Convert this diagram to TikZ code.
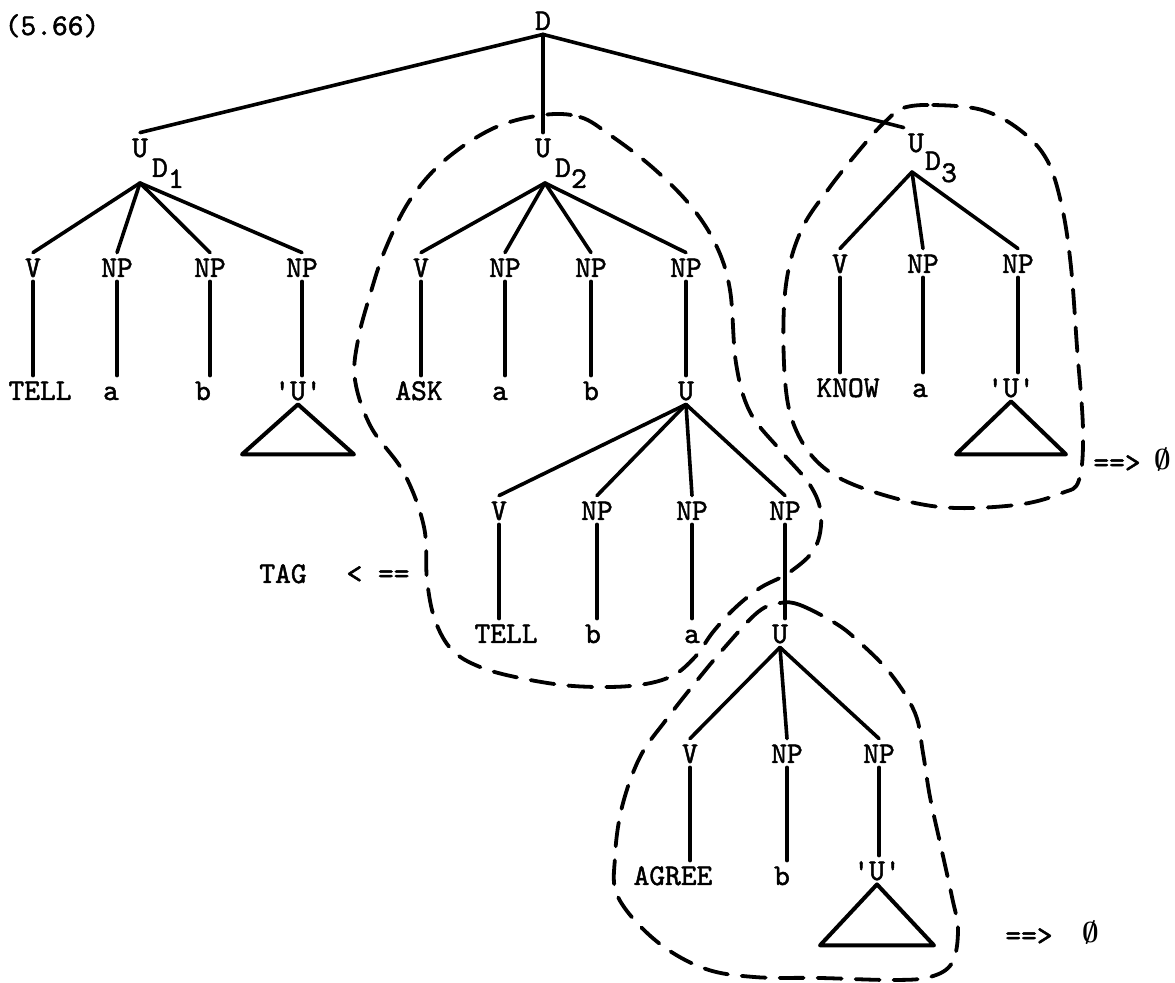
\documentclass[tikz,border=0pt]{standalone}
\usepackage{fontspec}
\newfontfamily\tw{lmmono10-regular}[Extension=.otf, FakeBold=1.6]
\newcommand{\qU}{\textquotesingle U\textquotesingle}
\begin{document}
\begin{tikzpicture}[x=0.5pt, y=-0.5pt,
	lab/.style={font=\tw\fontsize{15}{17}\selectfont, inner sep=2pt, text height=10pt, text depth=0pt},
	nul/.style={font=\fontsize{15}{17}\selectfont\boldmath, inner sep=2pt},
	branch/.style={line width=1.8pt, line cap=round},
	tri/.style={line width=2pt, line join=round},
	ring/.style={line width=1.9pt, line cap=round, dash pattern=on 12pt off 7pt}]
	% Khung hình theo ảnh gốc
	\useasboundingbox (0,0) rectangle (1175,983);
	
	% Nhãn và gốc D
	\node[lab] (num) at (52,25) {(5.66)};
	\node[lab] (D) at (543,20) {D};
	
	% Nhánh U_D1
	\node[lab] (ud1) at (140,147) {U};
	\node[lab] (ud1d) at (160,167) {D};
	\node[lab] (ud1i) at (176,178) {1};
	\coordinate (ud1b) at (140,183);
	\node[lab] (v1) at (33,267) {V};
	\node[lab] (np11) at (117,267) {NP};
	\node[lab] (np12) at (210,267) {NP};
	\node[lab] (np13) at (302,267) {NP};
	\node[lab] (tell1) at (40,390) {TELL};
	\node[lab] (a1) at (111,390) {a};
	\node[lab] (b1) at (203,390) {b};
	\node[lab] (uq1) at (298,390) {\qU};
	
	% Nhánh U_D2
	\node[lab] (ud2) at (543,147) {U};
	\node[lab] (ud2d) at (563,167) {D};
	\node[lab] (ud2i) at (579,178) {2};
	\coordinate (ud2b) at (545,183);
	\node[lab] (v2) at (421,267) {V};
	\node[lab] (np21) at (505,267) {NP};
	\node[lab] (np22) at (591,267) {NP};
	\node[lab] (np23) at (686,267) {NP};
	\node[lab] (ask) at (419,390) {ASK};
	\node[lab] (a2) at (500,390) {a};
	\node[lab] (b2) at (591,390) {b};
	\node[lab] (u2) at (686,390) {U};
	\node[lab] (v3) at (499,510) {V};
	\node[lab] (np31) at (597,510) {NP};
	\node[lab] (np32) at (692,510) {NP};
	\node[lab] (np33) at (785,510) {NP};
	\node[lab] (tell2) at (506,633) {TELL};
	\node[lab] (b3) at (593,633) {b};
	\node[lab] (a3) at (692,633) {a};
	\node[lab] (u3) at (780,633) {U};
	\node[lab] (v4) at (690,753) {V};
	\node[lab] (np41) at (787,753) {NP};
	\node[lab] (np42) at (879,753) {NP};
	\node[lab] (agree) at (673,875) {AGREE};
	\node[lab] (b4) at (782,875) {b};
	\node[lab] (uq3) at (877,870) {\qU};
	
	% Nhánh U_D3
	\node[lab] (ud3) at (916,142) {U};
	\node[lab] (ud3d) at (933,160) {D};
	\node[lab] (ud3i) at (949,172) {3};
	\coordinate (ud3b) at (912,172);
	\node[lab] (v5) at (840,263) {V};
	\node[lab] (np51) at (923,263) {NP};
	\node[lab] (np52) at (1018,263) {NP};
	\node[lab] (know) at (848,387) {KNOW};
	\node[lab] (a5) at (920,387) {a};
	\node[lab] (uq2) at (1011,387) {\qU};
	
	% Các phép biến đổi
	\node[lab] (tag) at (283,573) {TAG};
	\node[lab] (larr) at (378,573) {< ==};
	\node[lab] (rarr1) at (1117,462) {==>};
	\node[nul] (nul1) at (1163,460) {$\emptyset$};
	\node[lab] (rarr2) at (1029,935) {==>};
	\node[nul] (nul2) at (1091,933) {$\emptyset$};
	
	% Các cạnh của cây
	\draw[branch] (D.south) -- (ud1.north);
	\draw[branch] (D.south) -- (ud2.north);
	\draw[branch] (D.south) -- (ud3.north west);
	\foreach \c in {v1,np11,np12,np13} \draw[branch] (ud1b) -- (\c.north);
	\foreach \c in {v2,np21,np22,np23} \draw[branch] (ud2b) -- (\c.north);
	\foreach \c in {v3,np31,np32,np33} \draw[branch] (u2.south) -- (\c.north);
	\foreach \c in {v4,np41,np42} \draw[branch] (u3.south) -- (\c.north);
	\foreach \c in {v5,np51,np52} \draw[branch] (ud3b) -- (\c.north);
	\foreach \c/\t in {v1/tell1,np11/a1,np12/b1,np13/uq1,v2/ask,np21/a2,np22/b2,np23/u2,
		v3/tell2,np31/b3,np32/a3,np33/u3,v4/agree,np41/b4,np42/uq3,v5/know,np51/a5,np52/uq2}
		\draw[branch] (\c.south) -- (\c.south |- \t.north);
	
	% Các tam giác
	\draw[tri] (uq1.south) -- ++(-56,50) -- ++(112,0) -- cycle;
	\draw[tri] (uq2.south) -- ++(-55,53) -- ++(110,0) -- cycle;
	\draw[tri] (uq3.south) -- ++(-57,61) -- ++(114,0) -- cycle;
	
	% Đường bao nét đứt
	\draw[ring] plot[smooth cycle, tension=0.6] coordinates {(543,115) (580,117) (610,135) (652,167) (690,205) (716,245) (730,290) (736,363) (750,412) (780,450) (810,485) (821,515) (815,548) (790,572) (760,588) (735,608) (713,632) (695,657) (670,677) (630,686) (573,686) (520,678) (480,667) (452,650) (435,620) (427,580) (424,527) (404,473) (371,427) (355,380) (358,340) (370,295) (385,250) (410,200) (445,160) (494,128)};
	\draw[ring] plot[smooth cycle, tension=0.6] coordinates {(903,108) (933,105) (982,110) (1020,130) (1047,160) (1062,207) (1071,267) (1077,347) (1083,430) (1079,480) (1062,493) (1016,505) (940,507) (868,490) (823,467) (796,430) (785,380) (785,293) (800,233) (830,187) (868,140) (887,120)};
	\draw[ring] plot[smooth cycle, tension=0.6] coordinates {(780,603) (800,605) (835,623) (857,640) (890,673) (915,713) (923,753) (930,797) (941,847) (952,897) (958,930) (952,963) (930,977) (893,980) (820,978) (754,977) (703,968) (655,940) (618,897) (615,857) (622,807) (640,757) (666,720) (695,683) (725,647) (758,612)};
\end{tikzpicture}
\end{document}
